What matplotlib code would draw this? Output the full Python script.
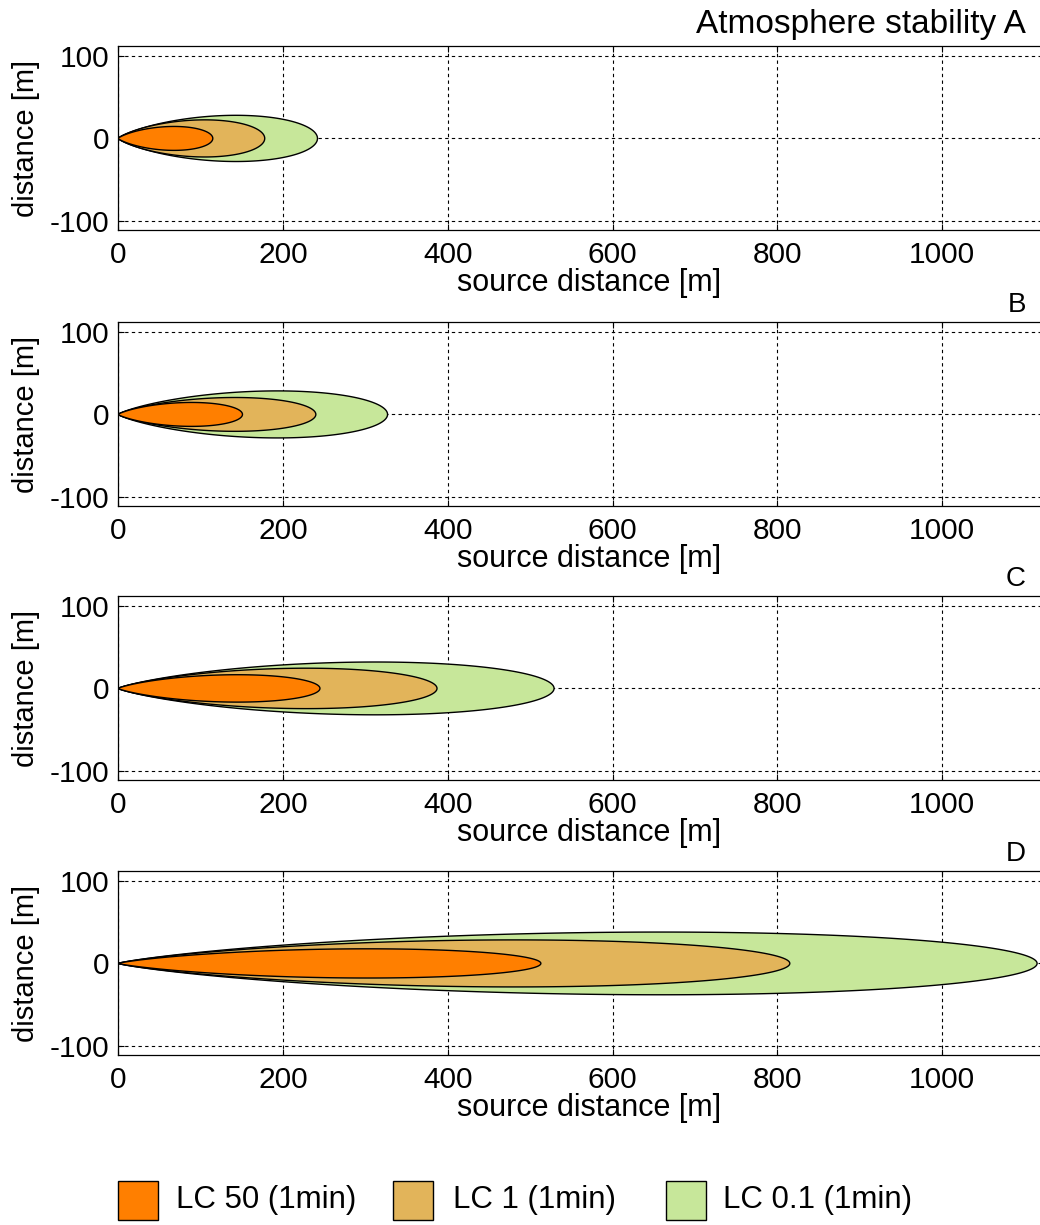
import numpy as np
import matplotlib
matplotlib.use('Agg')
import matplotlib.pyplot as plt
from matplotlib.patches import Polygon, Rectangle

plt.rcParams['font.family'] = ['Liberation Sans', 'DejaVu Sans']
plt.rcParams['axes.unicode_minus'] = False

# ---------------- data ----------------
panel_titles = ['Atmosphere stability A', 'B', 'C', 'D']
levels = ['LC 50 (1min)', 'LC 1 (1min)', 'LC 0.1 (1min)']
colors = ['#FF7F00', '#E2B45A', '#C7E79A']
# plume length along source distance [m] for stabilities A, B, C, D
length_lc50 = [115, 151, 245, 513]
length_lc1 = [178, 240, 387, 815]
length_lc01 = [242, 327, 529, 1115]
# maximum half-width of plume [m]
width_lc50 = [14.5, 14.5, 16.6, 17.7]
width_lc1 = [22.5, 20.5, 24.5, 28.5]
width_lc01 = [28.0, 28.5, 32.0, 38.0]
xticks = [0, 200, 400, 600, 800, 1000]
yticks = [-100, 0, 100]

lengths = [length_lc50, length_lc1, length_lc01]
widths = [width_lc50, width_lc1, width_lc01]

# ---------------- layout ----------------
W, H = 1040, 1225
fig = plt.figure(figsize=(W / 100, H / 100), dpi=100)

ax_left_px = 118
ax_width_px = 942
ax_height_px = 184
ax_tops_px = [46, 322, 596, 871]
title_baseline_px = [33, 312, 586, 861]
title_sizes = [24, 20, 20, 20]

def plume(L, Wd, b=0.95, n=1500):
    t = np.linspace(0, 1, n)
    s = 1 - (1 - t) ** 2
    s = np.clip(s, 1e-9, 1.0)
    tm = np.exp(-1 / (2 * b))
    f = s ** b * np.sqrt(np.maximum(-np.log(s), 0)) / (tm ** b * np.sqrt(1 / (2 * b)))
    x = L * s
    y = Wd * f
    xs = np.concatenate([x, x[::-1]])
    ys = np.concatenate([y, -y[::-1]])
    return np.column_stack([xs, ys])

xmax = ax_width_px / 0.8243
for i in range(4):
    top = ax_tops_px[i]
    ax = fig.add_axes([ax_left_px / W, 1 - (top + ax_height_px) / H,
                       ax_width_px / W, ax_height_px / H])
    ax.set_xlim(0, xmax)
    ax.set_ylim(-111, 112)
    ax.set_axisbelow(True)
    for lvl in [2, 1, 0]:
        poly = Polygon(plume(lengths[lvl][i], widths[lvl][i]), closed=True,
                       facecolor=colors[lvl], edgecolor='black', linewidth=1.0,
                       zorder=2 + (2 - lvl))
        ax.add_patch(poly)
    ax.set_xticks(xticks)
    ax.set_yticks(yticks)
    ax.grid(True, color='black', linestyle=(0, (3, 3)), linewidth=0.8)
    ax.tick_params(direction='in', length=4, width=0.8, labelsize=21.5,
                   top=True, right=False)
    ax.tick_params(axis='x', pad=8)
    ax.tick_params(axis='y', pad=6)
    for sp in ax.spines.values():
        sp.set_linewidth(0.9)
    ax.set_xlabel('source distance [m]', fontsize=22, labelpad=-1)
    ax.set_ylabel('distance [m]', fontsize=21)
    ax.yaxis.set_label_coords((40 - ax_left_px) / ax_width_px, 0.5)
    fig.text(1026 / W, 1 - title_baseline_px[i] / H, panel_titles[i],
             ha='right', va='baseline', fontsize=title_sizes[i])

# ---------------- legend ----------------
box_x = [118, 393, 666]
text_x = [176, 453, 723]
for k in range(3):
    fig.add_artist(Rectangle((box_x[k] / W, 1 - 1220 / H), 40 / W, 39 / H,
                             transform=fig.transFigure, facecolor=colors[k],
                             edgecolor='black', linewidth=1.0))
    fig.text(text_x[k] / W, 1 - 1200 / H, levels[k], ha='left', va='center',
             fontsize=22.5)

fig.savefig('out.png', dpi=100)
